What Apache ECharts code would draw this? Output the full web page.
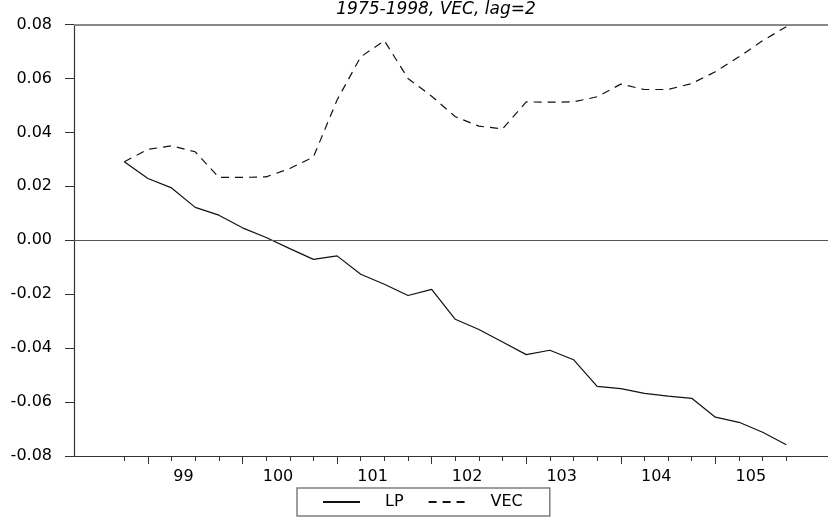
<!DOCTYPE html>
<html>
<head>
<meta charset="utf-8">
<script src="https://cdn.jsdelivr.net/npm/echarts@6/dist/echarts.min.js"></script>
<style>
  html, body { margin: 0; padding: 0; background: #fff; }
  #chart { width: 828px; height: 519px; }
</style>
</head>
<body>
<div id="chart"></div>
<script>
// quarters, 98:4 .. 105:4
var periods = [
  '98:4',
  '99:1', '99:2', '99:3', '99:4',
  '100:1', '100:2', '100:3', '100:4',
  '101:1', '101:2', '101:3', '101:4',
  '102:1', '102:2', '102:3', '102:4',
  '103:1', '103:2', '103:3', '103:4',
  '104:1', '104:2', '104:3', '104:4',
  '105:1', '105:2', '105:3', '105:4'
]
var lp = [
  0.0291, 0.0229, 0.0194, 0.0122, 0.0093, 0.0046, 0.0010, -0.0031, -0.0071, -0.0058,
  -0.0126, -0.0163, -0.0205, -0.0182, -0.0293, -0.0331, -0.0377, -0.0424, -0.0408, -0.0443,
  -0.0542, -0.0550, -0.0568, -0.0578, -0.0586, -0.0656, -0.0675, -0.0712, -0.0758
]
var vec = [
  0.0291, 0.0337, 0.0350, 0.0328, 0.0233, 0.0233, 0.0235, 0.0266, 0.0309, 0.0520,
  0.0680, 0.0740, 0.0600, 0.0534, 0.0458, 0.0423, 0.0413, 0.0513, 0.0512, 0.0513,
  0.0532, 0.0579, 0.0559, 0.0559, 0.0581, 0.0625, 0.0680, 0.0740, 0.0792
]
var yearLabels = ['99', '100', '101', '102', '103', '104', '105']

// tick positions from the quarter list
var quarterIdx = periods.map(function (p, i) { return i })
var yearStart = []
periods.forEach(function (p, i) {
  if (p.split(':')[1] === '1') yearStart.push(i)
})
// label in the middle of each year
var labelPos = yearStart.map(function (i) { return i + 1.5 })

var font = 'DejaVu Sans'
var axisColor = '#333'
var lineColor = '#111'

var chart = echarts.init(document.getElementById('chart'))
chart.setOption({
  animation: false,
  backgroundColor: '#fff',
  title: {
    text: '1975-1998, VEC, lag=2',
    left: 436,
    top: 1,
    padding: 0,
    textAlign: 'center',
    textStyle: {
      fontFamily: font,
      fontStyle: 'italic',
      fontWeight: 'normal',
      fontSize: 17,
      color: '#000'
    }
  },
  legend: {
    left: 297,
    top: 488,
    padding: [6, 27, 6, 25],
    itemWidth: 37,
    itemHeight: 14,
    itemGap: 24,
    borderColor: '#7f7f7f',
    borderWidth: 1.5,
    // hide the round marker, keep only the line
    itemStyle: { color: 'transparent', borderColor: 'transparent', borderWidth: 0, opacity: 0 },
    textStyle: {
      fontFamily: font,
      fontSize: 16,
      color: '#000',
      padding: [0, 0, 0, 20]
    },
    data: ['LP', 'VEC']
  },
  grid: {
    left: 74,
    right: 0,
    top: 24.5,
    bottom: 63,
    outerBoundsMode: 'none'
  },
  xAxis: [
    {
      type: 'value',
      min: -2.127,
      max: 29.764,
      position: 'bottom',
      axisLine: { onZero: false, lineStyle: { color: axisColor, width: 1.2 } },
      splitLine: { show: false },
      axisTick: { customValues: quarterIdx, length: 5, lineStyle: { color: axisColor } },
      axisLabel: {
        customValues: labelPos,
        margin: 13,
        fontFamily: font,
        fontSize: 16,
        color: '#000',
        formatter: function (v) {
          return yearLabels[labelPos.indexOf(v)]
        }
      }
    },
    {
      // longer ticks at the first quarter of each year
      type: 'value',
      min: -2.127,
      max: 29.764,
      position: 'bottom',
      axisLine: { show: false, onZero: false },
      splitLine: { show: false },
      axisTick: { customValues: yearStart, length: 8, lineStyle: { color: axisColor } },
      axisLabel: { show: false }
    }
  ],
  yAxis: {
    type: 'value',
    min: -0.08,
    max: 0.08,
    interval: 0.02,
    axisLine: { show: true, onZero: false, lineStyle: { color: axisColor, width: 1.2 } },
    axisTick: { show: true, length: 9, lineStyle: { color: axisColor } },
    splitLine: { show: false },
    axisLabel: {
      margin: 22,
      fontFamily: font,
      fontSize: 16,
      color: '#000',
      formatter: function (v) { return v.toFixed(2) }
    }
  },
  series: [
    {
      name: 'LP',
      type: 'line',
      symbol: 'none',
      lineStyle: { color: lineColor, width: 1.2 },
      itemStyle: { color: lineColor },
      data: lp.map(function (v, i) { return [i, v] }),
      markLine: {
        silent: true,
        symbol: ['none', 'none'],
        label: { show: false },
        data: [
          { yAxis: 0, lineStyle: { color: '#555', width: 1.2, type: 'solid' } },
          { yAxis: 0.08, lineStyle: { color: '#888', width: 2, type: 'solid' } }
        ]
      }
    },
    {
      name: 'VEC',
      type: 'line',
      symbol: 'none',
      lineStyle: { color: lineColor, width: 1.2, type: [8, 6] },
      itemStyle: { color: lineColor },
      data: vec.map(function (v, i) { return [i, v] })
    }
  ]
})
</script>
</body>
</html>
